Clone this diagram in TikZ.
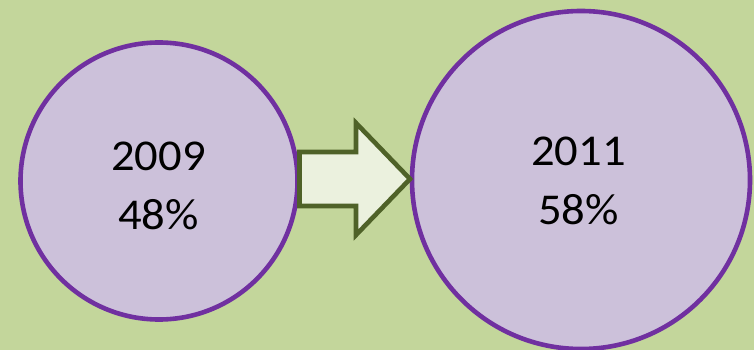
\documentclass[tikz,border=0pt]{standalone}
\usepackage{fontspec}
\setmainfont{Carlito}
\begin{document}
\begin{tikzpicture}[x=1pt,y=-1pt,
  bubble/.style={circle,draw=circlestroke,fill=circlefill,line width=4.6pt,inner sep=0pt},
  figure/.style={align=center,font=\fontsize{44}{59}\selectfont,text=black,
    inner sep=0pt,transform shape,xscale=1.06},
  arrowshape/.style={draw=arrowstroke,fill=arrowfill,line width=4.6pt,line join=miter}]
\definecolor{bg}{HTML}{C3D69B}
\definecolor{circlefill}{HTML}{CCC1DA}
\definecolor{circlestroke}{HTML}{7030A0}
\definecolor{arrowfill}{HTML}{EBF1DE}
\definecolor{arrowstroke}{HTML}{4F6228}
\fill[bg] (0,0) rectangle (754,350);
\useasboundingbox (0,0) rectangle (754,350);
% the two yearly figures
\node[bubble,minimum size=277pt] (y2009) at (159,181) {};
\node[bubble,minimum size=338pt] (y2011) at (581,180) {};
\node[figure] (t2009) at (158.5,185.5) {2009\\48\%};
\node[figure] (t2011) at (578.5,180.5) {2011\\58\%};
% block arrow between them
\draw[arrowshape] (299.5,152) -- (356,152) -- (356,123) -- (410,179)
  -- (356,235) -- (356,206) -- (299.5,206) -- cycle;
\end{tikzpicture}
\end{document}
